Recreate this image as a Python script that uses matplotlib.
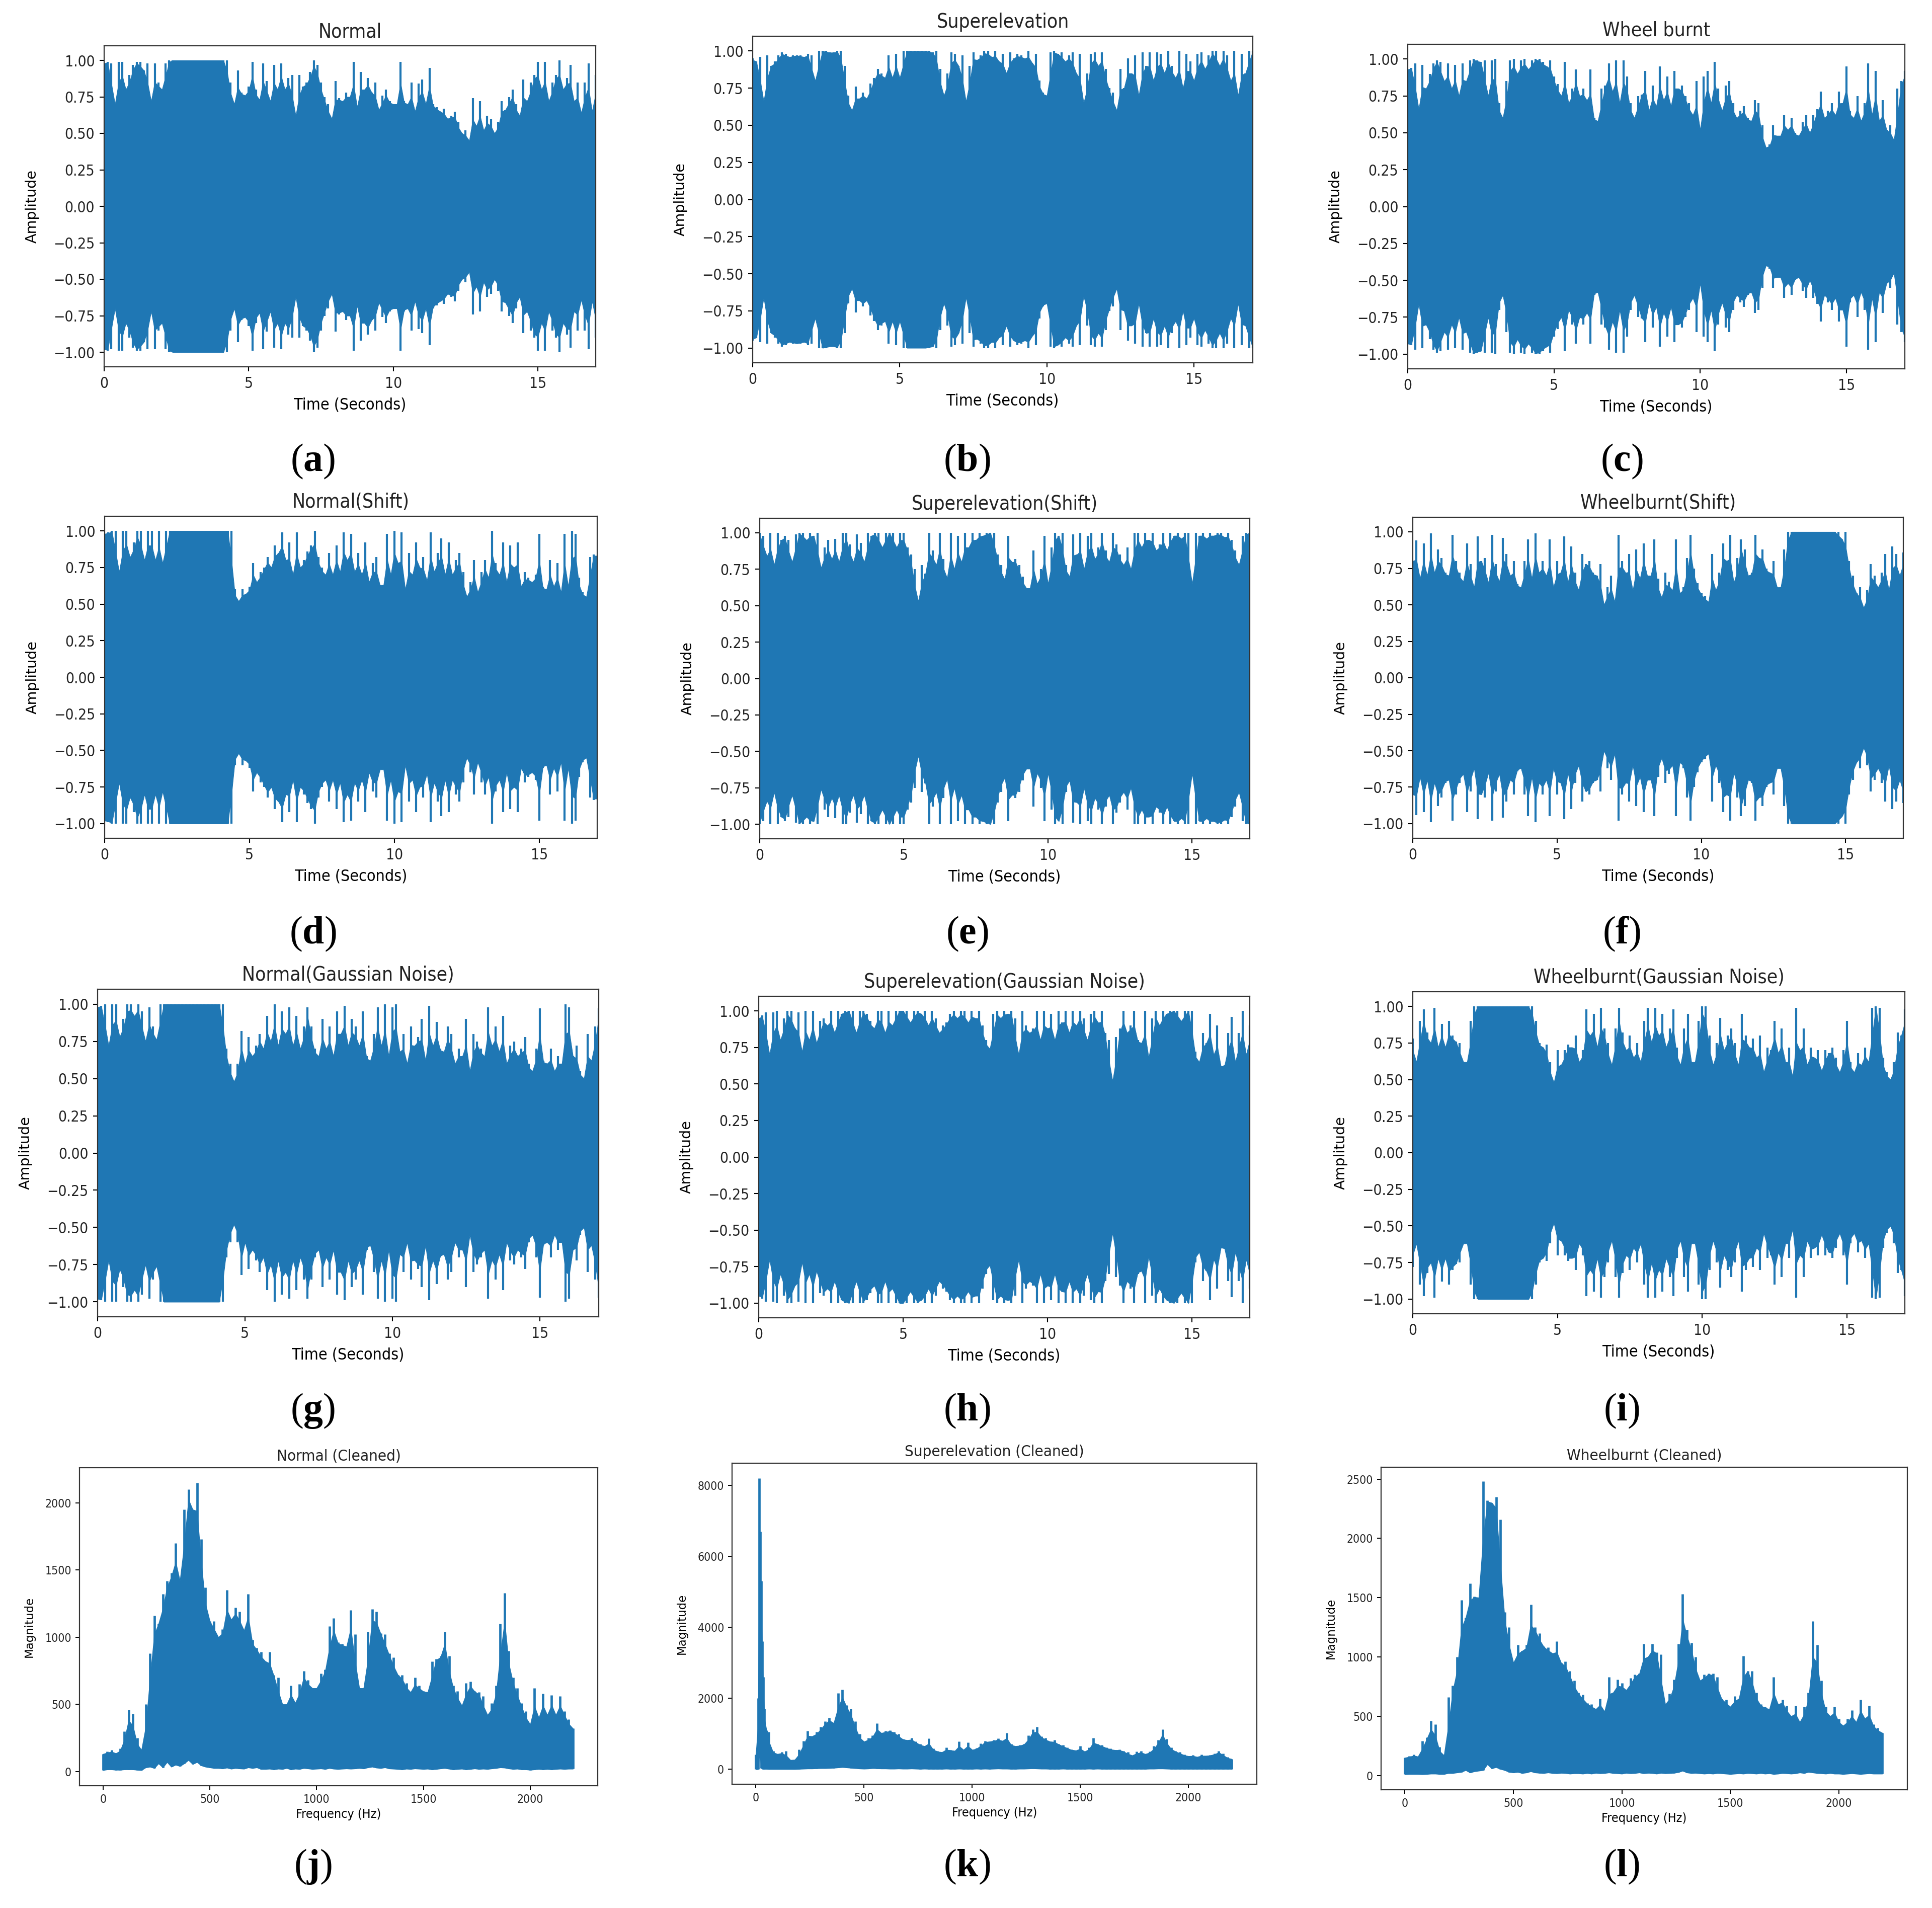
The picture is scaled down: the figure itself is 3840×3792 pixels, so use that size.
import numpy as np
import matplotlib
matplotlib.use("Agg")
import matplotlib.pyplot as plt

plt.rcParams["font.family"] = "DejaVu Sans"
plt.rcParams["font.stretch"] = "condensed"
plt.rcParams["text.color"] = "#222222"
plt.rcParams["xtick.labelcolor"] = "#222222"
plt.rcParams["ytick.labelcolor"] = "#222222"
plt.rcParams["mathtext.fontset"] = "custom"
plt.rcParams["mathtext.rm"] = "Liberation Serif"
plt.rcParams["mathtext.bf"] = "Liberation Serif:bold"

BLUE = "#1f77b4"
TIME_BIN = 0.125  # seconds per envelope value
FREQ_BIN = 20  # Hz per spectrum value

# peak amplitude per time bin
amp_a = [
    .98, .99, .98, .70, .99, .99, .80, .90,
    .97, .99, .99, .93, .98, .72, .98, .85,
    .80, .98, 1, 1, 1, 1, 1, 1,
    1, 1, 1, 1, 1, 1, 1, 1,
    1, 1, 1, .85, .70, .93, .78, .76,
    .82, .99, .80, .73, .98, .86, .72, .97,
    .80, .98, .80, .88, .90, .62, .90, .82,
    .85, .92, 1, .97, .85, .75, .70, .60,
    .86, .74, .72, .78, .75, .99, .68, .92,
    .80, .88, .78, .85, .66, .76, .80, .72,
    .70, .70, .99, .72, .70, .85, .65, .84,
    .87, .70, .95, .70, .68, .65, .67, .60,
    .62, .65, .58, .50, .52, .45, .74, .55,
    .72, .52, .62, .60, .50, .58, .72, .66,
    .75, .80, .70, .62, .87, .72, .85, .90,
    .99, .80, .99, .72, .85, .90, 1, .80,
    .88, .97, .72, .85, .64, .85, .98, .65,
    .90]
amp_b = [
    .95, .93, .96, .66, .97, .90, .93, .97,
    .99, .98, .96, .97, .97, .97, .96, .98,
    .97, .80, 1, 1, 1, .99, .99, 1,
    1, .90, .70, .60, .76, .68, .72, .68,
    .78, .82, .88, .85, .82, .97, .82, .98,
    .82, 1, 1, 1, 1, 1, 1, 1,
    1, .99, 1, .88, .70, .85, .99, .98,
    .90, .97, .66, .90, .99, .94, .97, 1,
    1, .96, 1, .93, .98, .85, .99, .95,
    .98, .97, .95, 1, .92, .98, .80, .72,
    .70, .99, 1, .98, .99, .93, .97, .99,
    .85, .98, .65, .85, .98, .99, .90, .99,
    .88, .75, .72, .60, .88, .75, .95, .85,
    .97, .70, .99, .90, .99, .80, .99, .98,
    .85, 1, .90, .82, 1, .75, .98, .93,
    .80, .98, .99, .88, .97, 1, 1, .90,
    1, .97, .80, 1, .70, .98, .85, 1,
    1]
amp_c = [
    .93, .94, .97, .66, .96, .80, .90, .97,
    .99, .98, .85, .97, .80, .96, .75, .97,
    .85, .99, 1, .99, .98, .99, .75, .99,
    1, .70, .60, .85, .99, 1, .90, .99,
    1, .93, .99, 1, 1, .98, .95, .99,
    .88, .83, .75, .98, .70, .80, .93, .75,
    .80, .72, .93, .60, .58, .80, .82, .97,
    .78, .99, .70, .99, .88, .70, .60, .75,
    .76, .92, .65, .82, .68, .95, .72, .88,
    .68, .92, .80, .82, .75, .70, .62, .85,
    .52, .88, .92, .70, .98, .80, .65, .82,
    .85, .70, .60, .65, .68, .60, .58, .72,
    .70, .55, .40, .42, .55, .48, .48, .62,
    .52, .60, .50, .48, .57, .62, .50, .62,
    .66, .78, .60, .65, .70, .62, .78, .70,
    .95, .65, .60, .75, .58, .70, .97, .62,
    .92, .58, .72, .52, .55, .45, .80, .85,
    .92]
amp_d = [
    .98, .99, 1, 1, .72, 1, 1, .82,
    .92, 1, 1, .80, 1, 1, .80, 1,
    .78, 1, 1, 1, 1, 1, 1, 1,
    1, 1, 1, 1, 1, 1, 1, 1,
    1, 1, 1, 1, .60, .52, .60, .57,
    .62, .78, .65, .72, .75, .82, .75, .90,
    .85, .99, .80, .92, .70, .99, .75, .80,
    .86, .90, 1, .82, .75, .70, .85, .70,
    .90, .72, .99, .80, .98, .72, .85, .70,
    .92, .65, .78, .82, .63, .63, .98, .70,
    1, .78, .99, .60, .85, .70, .92, .75,
    .82, .66, .99, .72, .85, .95, .70, .92,
    .70, .80, .85, .72, .55, .65, .80, .58,
    .72, .80, .68, 1, .78, .70, .92, .65,
    .90, .75, .92, .62, .72, .68, .65, .70,
    .98, .62, .60, .80, .62, .78, .58, .98,
    .62, 1, .98, .68, .58, .55, .82, .84,
    .83]
amp_e = [
    1, .98, .84, 1, .78, 1, .95, .98,
    .95, .80, .99, 1, 1, .95, 1, .98,
    1, .76, .90, .95, .82, .96, .80, 1,
    1, .92, .80, .99, .93, .80, 1, .98,
    1, 1, .90, 1, 1, 1, .90, 1,
    1, .90, .85, .75, .53, .78, .72, 1,
    .88, .78, 1, .82, .69, 1, .75, .98,
    .80, 1, .90, 1, .95, 1, .98, 1,
    1, 1, .85, .78, .68, .98, .80, .82,
    .78, .70, .62, .62, .88, .65, .75, .98,
    .65, .90, 1, .98, 1, .78, .70, .99,
    .85, 1, .75, .98, 1, .82, .90, 1,
    .88, .80, 1, .92, .85, .78, .90, .75,
    1, 1, .90, 1, .95, 1, .88, .92,
    1, .88, 1, .98, 1, .96, 1, 1,
    .65, 1, .98, 1, .96, 1, .98, 1,
    1, .97, 1, .95, .88, .78, .98, 1,
    1]
amp_f = [
    .80, .94, .68, .92, .70, .99, .72, .88,
    .82, .72, .70, .98, .80, .72, .66, .92,
    .78, .62, .97, .80, .82, .65, .98, .78,
    .66, .96, .85, .70, .80, .64, .62, .80,
    .95, .68, .99, .72, .80, .70, .95, .62,
    .80, .72, .97, .65, .90, .72, .60, .85,
    .78, .80, .72, .70, .78, .50, .62, .70,
    .52, .98, .80, .72, .85, .60, .88, .68,
    .92, .70, .70, .95, .68, .55, .72, .66,
    .60, .95, .58, .62, .82, .98, .75, .65,
    .58, .56, .52, .85, .60, .72, .92, .80,
    .98, .65, .82, .95, .88, .70, .72, .98,
    .82, .88, .75, .72, .80, .62, .62, .88,
    1, 1, 1, 1, 1, 1, 1, 1,
    1, 1, 1, 1, 1, 1, 1, .95,
    1, .80, .70, .58, .62, .48, .60, .78,
    .70, .62, .72, .85, .60, .90, .85, .70,
    .86]
amp_g = [
    .98, .99, 1, .72, 1, 1, .78, .90,
    1, 1, .92, 1, .95, .75, .98, .85,
    .76, 1, 1, 1, 1, 1, 1, 1,
    1, 1, 1, 1, 1, 1, 1, 1,
    1, 1, 1, .70, .60, .48, .60, .82,
    .60, .78, .65, .72, .80, .70, .92, .75,
    1, .72, .95, .80, .98, .72, .92, .70,
    .85, .98, .85, .70, .65, .90, .70, .85,
    .65, .95, .80, .99, .72, .90, .85, .72,
    .95, .65, .62, .80, .98, .72, 1, .65,
    .98, 1, .68, .80, .60, .85, .72, .78,
    .90, .62, .99, .72, .88, .70, .68, .85,
    .80, .60, .70, .65, .90, .55, .80, .75,
    .70, .65, .98, .72, .85, .68, .92, .60,
    .72, .75, .65, .70, .78, .60, .55, .70,
    .97, .62, .60, .70, .55, .65, .60, 1,
    .98, .65, .72, .55, .50, .80, .62, .85,
    .97]
amp_h = [
    .95, .97, .99, .70, .99, 1, .80, .95,
    1, 1, .88, .99, .72, 1, .80, 1,
    .78, .93, .95, .90, 1, .85, 1, .98,
    1, 1, 1, .85, 1, 1, .98, .93,
    .88, 1, 1, .85, 1, .90, 1, 1,
    1, 1, .92, 1, 1, .98, 1, .90,
    1, .95, .85, .90, .92, .98, 1, .95,
    1, 1, .92, 1, .95, 1, .90, .80,
    .74, .98, 1, .95, 1, .98, 1, .95,
    .70, 1, .90, .85, .88, 1, .80, 1,
    .88, .98, .80, 1, .92, 1, .85, 1,
    .90, 1, .95, .80, .98, 1, .92, 1,
    .85, .80, .52, .82, .88, 1, .85, .90,
    1, .80, .78, 1, .68, .95, 1, .90,
    1, .98, 1, 1, 1, .93, 1, 1,
    1, .72, .65, .85, .78, .98, .70, .90,
    .62, .63, .85, .96, .65, .85, 1, .70,
    .90]
amp_i = [
    .78, .62, .90, .98, .82, .75, .99, .72,
    .88, .72, .90, .80, .76, .75, .62, .62,
    .90, 1, 1, 1, 1, 1, 1, 1,
    1, 1, 1, 1, 1, 1, 1, 1,
    1, 1, .90, .75, .72, .74, .62, .48,
    .70, .60, .70, .74, .72, .80, .62, .70,
    .98, .80, .95, .72, .99, .85, .75, .60,
    .85, .99, .82, .70, .80, .65, .75, .62,
    .90, .99, .75, .99, .80, .95, .72, .85,
    .98, .72, .60, .85, .95, .62, .62, .90,
    1, 1, .80, .60, .75, .92, .70, .80,
    .85, .75, .60, .95, .80, .72, .78, .65,
    .80, .55, .72, .70, .90, .68, .85, .62,
    .72, .52, .99, .70, .85, .60, .72, .65,
    .70, .56, .70, .68, .72, .65, .55, .70,
    .90, .62, .55, .68, .60, .72, .62, .99,
    1, .99, .65, .55, .50, .62, .82, .80,
    .98]

# spectrum envelopes: top and bottom edge of the filled band per frequency bin
top_j = [
    130, 150, 160, 135, 170, 300, 460, 430, 250, 160,
    500, 880, 1160, 1100, 1320, 1420, 1480, 1700, 1420, 1950,
    2100, 1950, 2150, 1730, 1370, 1120, 1120, 1000, 1060, 1350,
    1130, 1220, 1190, 1050, 1320, 980, 920, 890, 820, 890,
    720, 700, 500, 500, 640, 510, 650, 750, 680, 620,
    620, 730, 760, 1080, 1140, 960, 950, 930, 1200, 1020,
    620, 620, 1040, 1210, 1190, 1030, 1020, 880, 850, 720,
    720, 660, 590, 700, 640, 600, 590, 820, 840, 860,
    1040, 860, 640, 600, 490, 660, 670, 600, 590, 560,
    420, 510, 640, 1100, 1330, 900, 700, 620, 510, 450,
    350, 620, 400, 580, 420, 570, 420, 560, 450, 390, 320]
low_j = [
    10, 15, 15, 12, 12, 15, 15, 15, 12, 10,
    30, 35, 25, 60, 30, 70, 35, 50, 40, 60,
    85, 55, 70, 45, 35, 30, 25, 25, 22, 28,
    20, 25, 22, 20, 30, 25, 30, 18, 18, 20,
    15, 20, 18, 25, 15, 20, 18, 25, 22, 18,
    20, 22, 18, 25, 20, 18, 20, 22, 20, 22,
    25, 22, 30, 35, 28, 25, 30, 22, 20, 18,
    15, 20, 18, 22, 20, 18, 20, 15, 18, 22,
    25, 20, 15, 18, 20, 15, 18, 22, 18, 20,
    18, 22, 25, 30, 28, 22, 18, 20, 15, 15,
    12, 15, 18, 15, 18, 15, 18, 20, 18, 20, 20]

# panel k has a narrow peak near 15 Hz, so its first bins are finer
freq_k = [0, 10, 15, 20, 25, 30, 35, 40, 50] + list(range(60, 2201, FREQ_BIN))
top_k = [
    420, 2000, 8200, 6700, 5300, 3600, 2600, 1700, 1100,
    1050, 520, 430, 480, 520, 260, 280, 560, 800, 1080,
    930, 1050, 1200, 1350, 1450, 1300, 2150, 2250, 1800, 1700,
    1350, 1000, 780, 880, 950, 1300, 1020, 1080, 1100, 1050,
    1000, 860, 820, 880, 790, 720, 650, 870, 580, 520,
    480, 620, 550, 520, 780, 550, 760, 550, 600, 730,
    800, 780, 820, 870, 800, 1030, 720, 650, 680, 720,
    950, 1120, 1190, 920, 880, 780, 820, 720, 680, 620,
    560, 530, 650, 500, 620, 880, 720, 680, 620, 580,
    540, 560, 520, 480, 390, 500, 520, 430, 500, 650,
    820, 1130, 850, 620, 520, 480, 420, 370, 400, 350,
    410, 380, 400, 440, 510, 450, 350, 290]
low_k = [
    0, 0, 330, 330, 40, 15, 10, 10, 10,
    5, 5, 5, 5, 5, 5, 5, 10, 15, 20,
    20, 25, 30, 30, 35, 40, 50, 60, 50, 40,
    30, 20, 15, 20, 30, 25, 20, 20, 15, 15,
    20, 15, 15, 20, 15, 10, 15, 10, 10, 10,
    10, 15, 10, 10, 15, 10, 10, 10, 15, 10,
    15, 10, 15, 20, 15, 15, 10, 10, 15, 15,
    20, 25, 20, 15, 15, 10, 10, 10, 15, 10,
    10, 10, 10, 10, 15, 10, 15, 10, 10, 10,
    10, 10, 10, 10, 10, 10, 10, 10, 15, 15,
    20, 20, 15, 10, 10, 10, 10, 10, 10, 10,
    10, 10, 10, 10, 10, 10, 10, 10]

top_l = [
    150, 165, 175, 160, 290, 320, 460, 430, 240, 170,
    660, 760, 1000, 1480, 1330, 1620, 1510, 1500, 2480, 2320,
    2300, 2350, 2160, 1380, 1250, 950, 1100, 1050, 1100, 1440,
    1250, 1200, 1090, 1080, 1030, 1130, 950, 960, 880, 800,
    700, 680, 610, 600, 560, 650, 540, 830, 700, 810,
    780, 720, 820, 850, 860, 1110, 1000, 1110, 1040, 1020,
    600, 690, 810, 1110, 1530, 1230, 1120, 1000, 800, 850,
    860, 860, 830, 650, 640, 580, 670, 650, 1010, 880,
    880, 700, 600, 580, 560, 830, 600, 640, 590, 500,
    590, 450, 580, 700, 1300, 1100, 800, 580, 500, 580,
    480, 420, 480, 550, 450, 640, 480, 590, 430, 400, 360]
low_l = [
    10, 12, 12, 12, 10, 12, 15, 15, 12, 12,
    20, 20, 25, 30, 45, 25, 35, 40, 45, 95,
    60, 70, 55, 45, 30, 25, 30, 20, 25, 35,
    25, 22, 20, 25, 20, 18, 22, 20, 15, 18,
    18, 15, 20, 15, 22, 18, 20, 25, 20, 18,
    15, 22, 18, 20, 25, 18, 22, 20, 15, 22,
    18, 20, 22, 28, 40, 25, 20, 22, 18, 15,
    18, 15, 20, 18, 15, 12, 15, 18, 15, 20,
    18, 15, 20, 15, 18, 12, 15, 20, 18, 15,
    18, 25, 20, 30, 25, 20, 18, 15, 20, 15,
    15, 12, 15, 18, 15, 12, 15, 18, 15, 15, 15]

wave_titles = ["Normal", "Superelevation", "Wheel burnt",
               "Normal(Shift)", "Superelevation(Shift)", "Wheelburnt(Shift)",
               "Normal(Gaussian Noise)", "Superelevation(Gaussian Noise)",
               "Wheelburnt(Gaussian Noise)"]
wave_amps = [amp_a, amp_b, amp_c, amp_d, amp_e, amp_f, amp_g, amp_h, amp_i]
wave_yticks = [-1.0, -0.75, -0.5, -0.25, 0.0, 0.25, 0.5, 0.75, 1.0]
wave_xticks = [0, 5, 10, 15]

spec_titles = ["Normal (Cleaned)", "Superelevation (Cleaned)", "Wheelburnt (Cleaned)"]
spec_freqs = [list(range(0, 2201, FREQ_BIN)), freq_k, list(range(0, 2201, FREQ_BIN))]
spec_tops = [top_j, top_k, top_l]
spec_lows = [low_j, low_k, low_l]
spec_yticks = [[0, 500, 1000, 1500, 2000],
               [0, 2000, 4000, 6000, 8000],
               [0, 500, 1000, 1500, 2000, 2500]]
spec_ylims = [(-106, 2262), (-420, 8620), (-120, 2600)]
spec_xticks = [0, 500, 1000, 1500, 2000]

captions = list("abcdefghijkl")

W, H = 3840, 3792
fig = plt.figure(figsize=(W / 100, H / 100), dpi=100)

# left, right, top, bottom of each panel in pixels
wave_boxes = [(207, 1184, 91, 729), (1496, 2490, 72, 721), (2798, 3786, 88, 733),
              (208, 1187, 1026, 1666), (1510, 2484, 1030, 1667), (2808, 3783, 1028, 1666),
              (194, 1190, 1966, 2617), (1508, 2484, 1980, 2619), (2808, 3786, 1971, 2611)]
spec_boxes = [(158, 1188, 2917, 3549), (1455, 2498, 2908, 3546), (2745, 3791, 2916, 3557)]
caption_x = [622, 1922, 3223]
caption_y = [917, 1856, 2804, 3710]


def add_axes(box):
    left, right, top, bottom = box
    ax = fig.add_axes([left / W, 1 - bottom / H, (right - left) / W, (bottom - top) / H])
    for spine in ax.spines.values():
        spine.set_linewidth(1.6)
        spine.set_color("#333333")
    return ax


def core(values):
    # solid part under the needles: halfway up from the lowest neighbour
    v = np.asarray(values, dtype=float)
    padded = np.pad(v, 1, mode="edge")
    lowest = np.min([padded[:-2], padded[1:-1], padded[2:]], axis=0)
    return (lowest + v) / 2


for title, amp, box in zip(wave_titles, wave_amps, wave_boxes):
    ax = add_axes(box)
    amp = np.array(amp)
    t = np.arange(len(amp)) * TIME_BIN
    base = core(amp)
    ax.fill_between(t, -base, base, color=BLUE, linewidth=0.8)
    ax.vlines(t, -amp, amp, color=BLUE, linewidth=3.0)
    ax.set_xlim(0, 17)
    ax.set_ylim(-1.1, 1.1)
    ax.set_xticks(wave_xticks)
    ax.set_yticks(wave_yticks)
    ax.set_yticklabels([f"{v:.2f}".replace("-", "\u2212") for v in wave_yticks])
    ax.tick_params(labelsize=21.5, length=6.5, width=1.5, pad=7)
    ax.set_title(title, fontsize=28, pad=12)
    ax.set_xlabel("Time (Seconds)", fontsize=23, va="center")
    ax.set_ylabel("Amplitude", fontsize=20.5, fontstretch="normal", va="center")
    w, h = box[1] - box[0], box[3] - box[2]
    ax.xaxis.set_label_coords(0.5, -76 / h)
    ax.yaxis.set_label_coords(-143 / w, 0.5)

for title, freq, top, low, ticks, ylim, box in zip(spec_titles, spec_freqs, spec_tops,
                                                   spec_lows, spec_yticks, spec_ylims,
                                                   spec_boxes):
    ax = add_axes(box)
    ax.fill_between(freq, low, core(top), color=BLUE, linewidth=1.0)
    ax.vlines(freq, low, top, color=BLUE, linewidth=3.4)
    ax.set_xlim(-110, 2316)
    ax.set_ylim(*ylim)
    ax.set_xticks(spec_xticks)
    ax.set_yticks(ticks)
    ax.tick_params(labelsize=16.5, length=5.5, width=1.4, pad=6)
    ax.set_title(title, fontsize=22.5, pad=10)
    ax.set_xlabel("Frequency (Hz)", fontsize=18, va="center")
    ax.set_ylabel("Magnitude", fontsize=16.5, fontstretch="normal", va="center")
    w, h = box[1] - box[0], box[3] - box[2]
    ax.xaxis.set_label_coords(0.5, -57 / h)
    ax.yaxis.set_label_coords(-100 / w, 0.5)

for i, letter in enumerate(captions):
    x = caption_x[i % 3]
    y = caption_y[i // 3]
    fig.text(x / W, 1 - y / H, rf"($\mathbf{{{letter}}}$)", family="Liberation Serif",
             fontsize=56, color="black", ha="center", va="center")

fig.savefig("out.png", dpi=100, facecolor="white")
